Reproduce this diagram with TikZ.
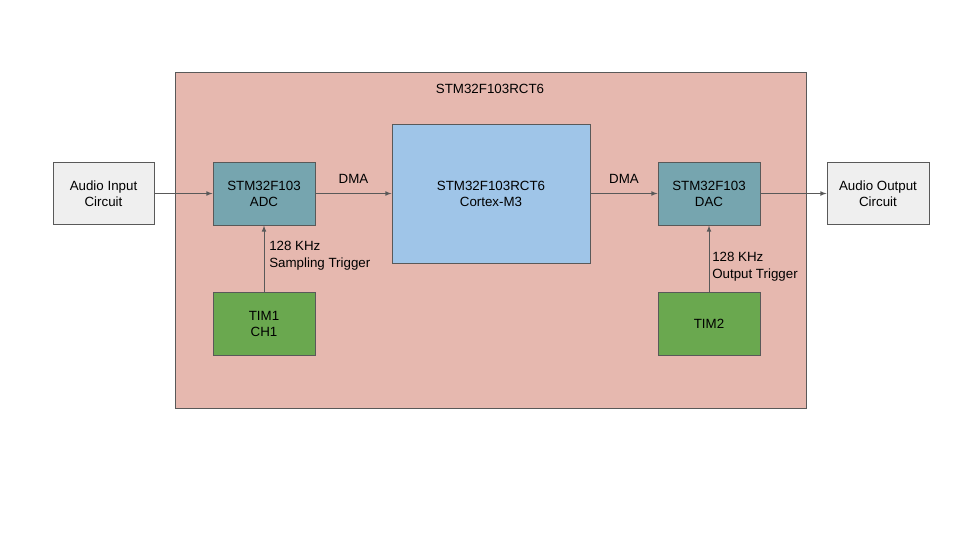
\documentclass[tikz,border=0pt]{standalone}
\usepackage{fontspec}
\setmainfont{Liberation Sans}
\usepackage{xcolor}
\usetikzlibrary{arrows}

\definecolor{chipred}{HTML}{E6B8AF}
\definecolor{periph}{HTML}{76A5AF}
\definecolor{corecol}{HTML}{9FC5E8}
\definecolor{timcol}{HTML}{6AA84F}
\definecolor{extcol}{HTML}{EFEFEF}
\definecolor{edge}{HTML}{595959}

\tikzset{
  block/.style={draw=edge, line width=0.75pt, inner sep=0pt, align=center,
    font=\fontsize{10}{12}\selectfont},
  link/.style={draw=edge, line width=0.6pt, ->, >=latex},
  note/.style={font=\fontsize{10}{12.8}\selectfont, align=left, inner sep=0pt}
}

\begin{document}
\begin{tikzpicture}[x=0.75pt, y=-0.75pt]
    \useasboundingbox (0,0) rectangle (960,540);

    % chip outline
    \node[block, fill=chipred, minimum width=631*0.75pt, minimum height=336*0.75pt] (chip) at (490.5,240) {};
    \node[note] (chiptitle) at (490,89) {STM32F103RCT6};

    % outside circuits
    \node[block, fill=extcol, minimum width=101*0.75pt, minimum height=62*0.75pt] (ain) at (103.5,193.5) {Audio Input\\Circuit};
    \node[block, fill=extcol, minimum width=102*0.75pt, minimum height=62*0.75pt] (aout) at (878,193.5) {Audio Output\\Circuit};

    % peripherals
    \node[block, fill=periph, minimum width=102*0.75pt, minimum height=63*0.75pt] (adc) at (264,193.5) {STM32F103\\ADC};
    \node[block, fill=periph, minimum width=102*0.75pt, minimum height=63*0.75pt] (dac) at (709,193.5) {STM32F103\\DAC};
    \node[block, fill=corecol, minimum width=198*0.75pt, minimum height=139*0.75pt] (core) at (491,193.5) {STM32F103RCT6\\Cortex-M3};

    % timers
    \node[block, fill=timcol, minimum width=102*0.75pt, minimum height=63*0.75pt] (tim1) at (264,323.5) {TIM1\\CH1};
    \node[block, fill=timcol, minimum width=102*0.75pt, minimum height=63*0.75pt] (tim2) at (709,323.5) {TIM2};

    % data path
    \draw[link] (ain.east) -- (adc.west);
    \draw[link] (adc.east) -- node[note, above=7.5pt] (dma1) {DMA} (core.west |- adc.east);
    \draw[link] (core.east |- dac.west) -- node[note, above=7.5pt] (dma2) {DMA} (dac.west);
    \draw[link] (dac.east) -- (aout.west);

    % triggers
    \draw[link] (tim1.north) -- (adc.south);
    \draw[link] (tim2.north) -- (dac.south);
    \node[note, anchor=west] (trig1) at (269,256) {128 KHz\\Sampling Trigger};
    \node[note, anchor=west] (trig2) at (712,267) {128 KHz\\Output Trigger};
\end{tikzpicture}
\end{document}
